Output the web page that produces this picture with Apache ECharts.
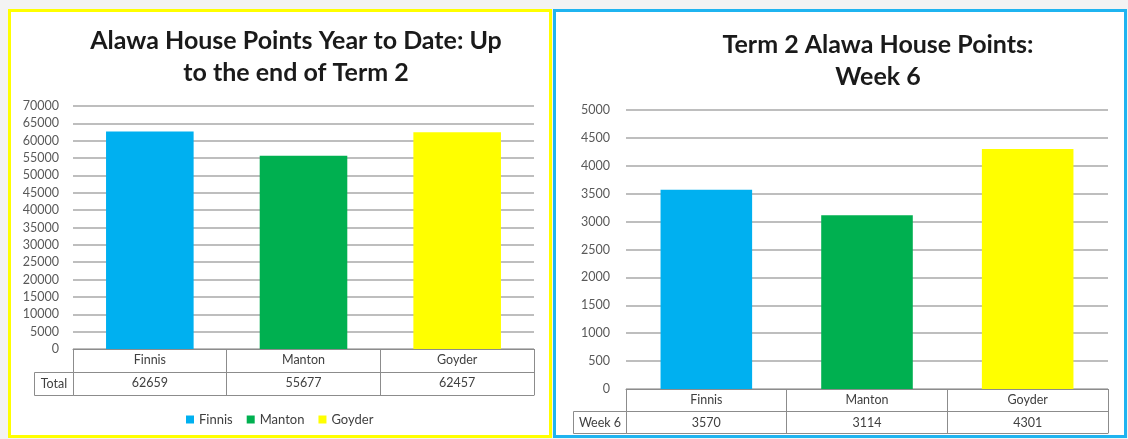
<!DOCTYPE html>
<html>
<head>
<meta charset="utf-8">
<style>
  html, body { margin: 0; padding: 0; background: #f3f3f3; }
  #chart-container { width: 1128px; height: 439px; }
</style>
<script src="https://cdn.jsdelivr.net/npm/echarts@6/dist/echarts.min.js"></script>
</head>
<body>
<div id="chart-container"></div>
<script>
'use strict';

// data
const houses = ['Finnis', 'Manton', 'Goyder'];
const houseColors = ['#00b0f0', '#00b050', '#ffff00'];
const yearTotals = [62659, 55677, 62457];
const week6Points = [3570, 3114, 4301];
const leftTitle = 'Alawa House Points Year to Date: Up\nto the end of Term 2';
const rightTitle = 'Term 2 Alawa House Points:\nWeek 6';
const leftRowName = 'Total';
const rightRowName = 'Week 6';

const FONT = 'Lato';
const TABLE_LINE = '#8c8c8c';
const TEXT = '#404040';

// category axis that doubles as the data table under the bars
function tableAxes(gridIndex, values, tickLen, offsets) {
    const main = {
        type: 'category',
        gridIndex: gridIndex,
        data: houses,
        axisLine: { show: true, lineStyle: { color: TABLE_LINE, width: 1 } },
        axisTick: { show: true, interval: 0, length: tickLen, lineStyle: { color: TABLE_LINE } },
        axisLabel: {
            interval: 0,
            margin: 0,
            formatter: (v, i) => '{n|' + v + '}\n{v|' + values[i] + '}',
            rich: {
                n: { fontFamily: FONT, fontSize: 12.5, color: TEXT, lineHeight: 22 },
                v: { fontFamily: FONT, fontSize: 12.5, color: TEXT, lineHeight: 23 }
            }
        }
    };
    const lines = offsets.map(o => ({
        type: 'category',
        gridIndex: gridIndex,
        data: houses,
        position: 'bottom',
        offset: o,
        axisLine: { show: true, lineStyle: { color: TABLE_LINE, width: 1 } },
        axisTick: { show: false },
        axisLabel: { show: false }
    }));
    return [main].concat(lines);
}

function valueAxis(gridIndex, max, interval, margin) {
    return {
        type: 'value',
        gridIndex: gridIndex,
        min: 0,
        max: max,
        interval: interval,
        axisLine: { show: false },
        axisTick: { show: false },
        axisLabel: {
            fontFamily: FONT,
            fontSize: 12.5,
            color: '#595959',
            margin: margin,
            formatter: v => String(v)
        },
        splitLine: { lineStyle: { color: '#a8a8a8', width: 1.5 } }
    };
}

function rowHeader(text, x, y, w, h) {
    return [
        {
            type: 'rect',
            shape: { x: x, y: y, width: w, height: h },
            style: { fill: '#fff', stroke: TABLE_LINE, lineWidth: 1 },
            z: 10
        },
        {
            type: 'text',
            x: x + w / 2,
            y: y + h / 2,
            style: { text: text, fontFamily: FONT, fontSize: 12.5, fill: TEXT, align: 'center', verticalAlign: 'middle' },
            z: 11
        }
    ];
}

const chart = echarts.init(document.getElementById('chart-container'), null, { renderer: 'canvas' });

const option = {
    animation: false,
    backgroundColor: '#f3f3f3',
    title: [
        {
            text: leftTitle,
            left: 291,
            top: 20,
            textAlign: 'center',
            textStyle: { fontFamily: FONT, fontWeight: 'bold', fontSize: 25, color: '#1a1a1a', lineHeight: 32 }
        },
        {
            text: rightTitle,
            left: 873,
            top: 24,
            textAlign: 'center',
            textStyle: { fontFamily: FONT, fontWeight: 'bold', fontSize: 25, color: '#1a1a1a', lineHeight: 32 }
        }
    ],
    legend: {
        data: houses,
        left: 181,
        top: 408,
        icon: 'rect',
        itemWidth: 8,
        itemHeight: 8,
        itemGap: 14,
        textStyle: { fontFamily: FONT, fontSize: 13, color: TEXT }
    },
    grid: [
        { left: 73, right: 1128 - 534, top: 106, bottom: 90 },
        { left: 626, right: 1128 - 1108, top: 110, bottom: 50 }
    ],
    xAxis: tableAxes(0, yearTotals, 46, [23, 46])
        .concat(tableAxes(1, week6Points, 44, [22, 44])),
    yAxis: [
        valueAxis(0, 70000, 5000, 14),
        valueAxis(1, 5000, 500, 16)
    ],
    graphic: [
        {
            type: 'rect',
            shape: { x: 9.5, y: 10.5, width: 541, height: 426 },
            style: { fill: '#fff', stroke: '#ffff00', lineWidth: 3 },
            z: -10
        },
        {
            type: 'rect',
            shape: { x: 554.5, y: 10.5, width: 571, height: 426 },
            style: { fill: '#fff', stroke: '#1fb4f0', lineWidth: 3 },
            z: -10
        }
    ].concat(rowHeader(leftRowName, 34.5, 372.5, 39, 23))
     .concat(rowHeader(rightRowName, 573.5, 411.5, 53, 22)),
    series: houses.map((h, i) => ({
        name: h,
        type: 'bar',
        stack: 'ytd',
        xAxisIndex: 0,
        yAxisIndex: 0,
        barWidth: '57%',
        itemStyle: { color: houseColors[i] },
        data: yearTotals.map((v, j) => (j === i ? v : '-'))
    })).concat([{
        name: 'Week 6',
        type: 'bar',
        xAxisIndex: 3,
        yAxisIndex: 1,
        barWidth: '57%',
        data: week6Points.map((v, i) => ({ value: v, itemStyle: { color: houseColors[i] } }))
    }])
};

chart.setOption(option);
window.addEventListener('resize', chart.resize);
</script>
</body>
</html>
